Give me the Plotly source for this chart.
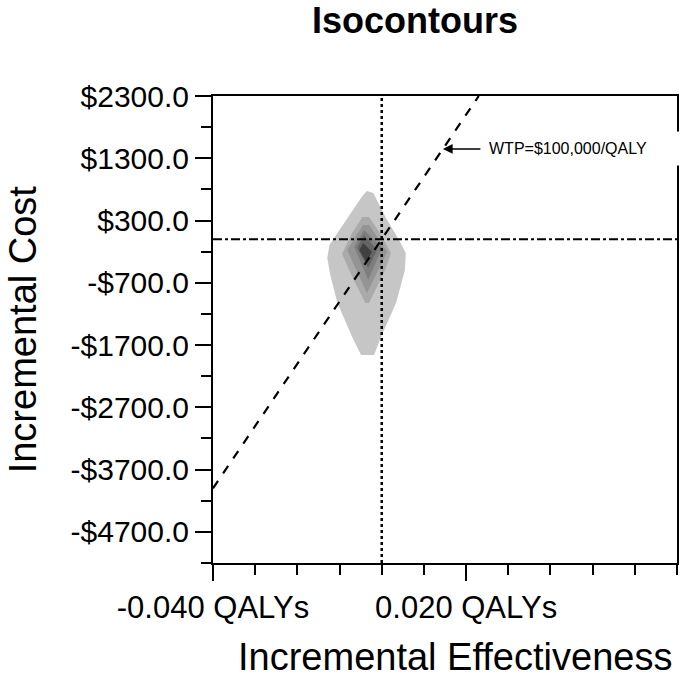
import plotly.graph_objects as go

# ---- data ----
# contour levels, outer (lightest) to inner (darkest): x = incremental QALYs, y = incremental cost
c1_x = [-0.0035, -0.0020, 0.0010, 0.0041, 0.0057, 0.0055, 0.0034, -0.0002, -0.0018, -0.0049, -0.0070, -0.0105, -0.0122, -0.0129, -0.0124, -0.0082, -0.0046]
c1_y = [774, 742, 341, -13, -221, -494, -1024, -1570, -1860, -1860, -1570, -1024, -575, -302, -93, 341, 694]
c2_x = [-0.0046, -0.0030, -0.0006, 0.0022, 0.0008, -0.0030, -0.0039, -0.0072, -0.0094, -0.0070]
c2_y = [357, 357, 116, -221, -494, -1024, -1024, -575, -237, 100]
c3_x = [-0.0044, -0.0030, 0.0013, -0.0035, -0.0082]
c3_y = [228, 228, -205, -864, -173]
c4_x = [-0.0042, 0.0001, -0.0032, -0.0065]
c4_y = [148, -141, -655, -125]
c5_x = [-0.0042, -0.0011, -0.0032, -0.0058]
c5_y = [68, -173, -462, -141]
c6_x = [-0.0044, -0.0023, -0.0037, -0.0053]
c6_y = [-61, -205, -366, -173]
contour_colors = ["#c6c6c6", "#aaaaaa", "#949494", "#7e7e7e", "#646464", "#404040"]

# willingness-to-pay line ($100,000/QALY)
wtp_x = [-0.040, 0.023]
wtp_y = [-4000, 2300]
# reference lines at zero
zero_v_x = [0, 0]
zero_v_y = [-5200, 2300]
zero_h_x = [-0.04, 0.07]
zero_h_y = [0, 0]

y_tickvals = [2300, 1300, 300, -700, -1700, -2700, -3700, -4700]
y_ticktext = ["$2300.0", "$1300.0", "$300.0", "-$700.0", "-$1700.0", "-$2700.0", "-$3700.0", "-$4700.0"]
x_tickvals = [-0.04, 0.02]
x_ticktext = ["-0.040 QALYs", "0.020 QALYs"]

FONT = "Liberation Sans, Arial, sans-serif"

fig = go.Figure()
for xs, ys, col in zip([c1_x, c2_x, c3_x, c4_x, c5_x, c6_x],
                       [c1_y, c2_y, c3_y, c4_y, c5_y, c6_y], contour_colors):
    fig.add_trace(go.Scatter(x=xs + xs[:1], y=ys + ys[:1], mode="lines", fill="toself",
                             fillcolor=col, line=dict(width=0, color=col),
                             hoverinfo="skip", showlegend=False))

fig.add_trace(go.Scatter(x=zero_v_x, y=zero_v_y, mode="lines",
                         line=dict(color="black", width=2.5, dash="dot"), showlegend=False))
fig.add_trace(go.Scatter(x=zero_h_x, y=zero_h_y, mode="lines",
                         line=dict(color="black", width=2, dash="dashdot"), showlegend=False))
fig.add_trace(go.Scatter(x=wtp_x, y=wtp_y, mode="lines",
                         line=dict(color="black", width=2.2, dash="dash"), showlegend=False))

fig.update_layout(
    width=681, height=678,
    margin=dict(l=213, r=2, t=96, b=115),
    plot_bgcolor="white", paper_bgcolor="white",
    font=dict(family=FONT, color="black"),
    title=dict(text="<b>Isocontours</b>", font=dict(size=36, family=FONT, color="black"),
               x=415 / 681, xanchor="center", xref="container",
               y=1 - 20 / 678, yanchor="middle", yref="container"),
    showlegend=False,
)

fig.update_xaxes(range=[-0.04, 0.07], showgrid=False, zeroline=False,
                 showline=True, linecolor="black", linewidth=2, mirror=True,
                 ticks="outside", ticklen=16, tickwidth=2, tickcolor="black",
                 tickvals=x_tickvals, ticktext=x_ticktext,
                 tickfont=dict(size=31, family=FONT, color="black"),
                 minor=dict(dtick=0.01, tick0=-0.04, ticks="outside", ticklen=10,
                            tickwidth=2, tickcolor="black", showgrid=False))
fig.update_yaxes(range=[-5200, 2300], showgrid=False, zeroline=False,
                 showline=True, linecolor="black", linewidth=2, mirror=True,
                 ticks="outside", ticklen=16, tickwidth=2, tickcolor="black",
                 tickvals=y_tickvals, ticktext=y_ticktext,
                 tickfont=dict(size=30, family=FONT, color="black"),
                 minor=dict(dtick=500, tick0=2300, ticks="outside", ticklen=10,
                            tickwidth=2, tickcolor="black", showgrid=False))

# axis titles
fig.add_annotation(text="Incremental Cost", xref="paper", yref="paper",
                   x=(22 - 213) / 466, y=0.5, textangle=-90, showarrow=False,
                   xanchor="center", yanchor="middle",
                   font=dict(size=38, family=FONT, color="black"))
fig.add_annotation(text="Incremental Effectiveness", xref="paper", yref="paper",
                   x=(456 - 213) / 466, y=(563 - 657) / 467, showarrow=False,
                   xanchor="center", yanchor="middle",
                   font=dict(size=38, family=FONT, color="black"))

# WTP label with arrow
fig.add_annotation(text="WTP=$100,000/QALY", x=0.0145, y=1450, xref="x", yref="y",
                   showarrow=True, ax=141, ay=0, arrowhead=2, arrowsize=1.3,
                   arrowwidth=1.5, arrowcolor="black", bgcolor="white",
                   borderpad=8, width=190, align="left",
                   font=dict(size=16, family=FONT, color="black"))

fig.write_html("out.html", config={"displayModeBar": False},
               post_script="document.body.style.margin='0px';document.body.style.overflow='hidden';")
